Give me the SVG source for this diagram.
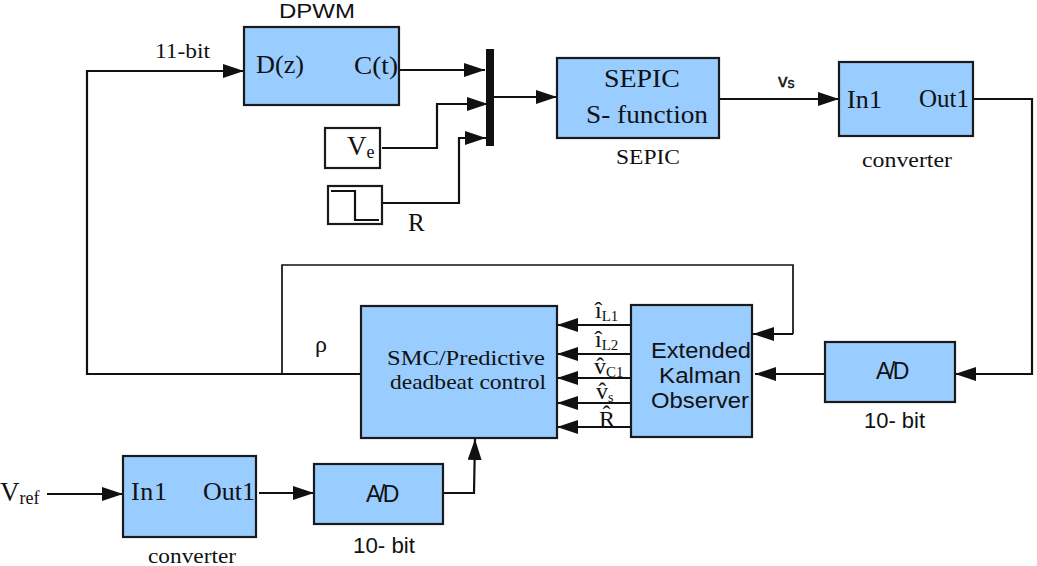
<svg xmlns="http://www.w3.org/2000/svg" width="1037" height="566" viewBox="0 0 1037 566">
<style>
.b{fill:#99ccff;stroke:#1a1a1a;stroke-width:2.2}
.w{fill:#fff;stroke:#1a1a1a;stroke-width:2.2}
.c{fill:none;stroke:#111;stroke-width:2.2}
.n{fill:none;stroke:#111;stroke-width:1.7}
.t{fill:#111;stroke:none}
text{fill:#111}
.s{font-family:"Liberation Serif",serif}
.a{font-family:"Liberation Sans",sans-serif}
</style>
<defs>
<marker id="ar" markerUnits="userSpaceOnUse" markerWidth="22" markerHeight="14" refX="21" refY="7" orient="auto"><path d="M0 0L21 7L0 14Z" fill="#111"/></marker>
</defs>
<rect width="1037" height="566" fill="#fff"/>
<g id="connectors">
<path class="c" marker-end="url(#ar)" d="M360 374H87V71H244"/>
<path class="n" d="M282 374V265H793V334"/>
<path class="c" marker-end="url(#ar)" d="M793 334H753"/>
<path class="c" marker-end="url(#ar)" d="M399 70H485"/>
<path class="c" marker-end="url(#ar)" d="M382 148H437V104H488"/>
<path class="c" marker-end="url(#ar)" d="M382 203H459V138H486"/>
<path class="c" marker-end="url(#ar)" d="M494 97H557"/>
<path class="c" marker-end="url(#ar)" d="M719 99H839"/>
<path class="c" marker-end="url(#ar)" d="M973 99H1032V374H955"/>
<path class="c" marker-end="url(#ar)" d="M825 374H755"/>
<path class="c" marker-end="url(#ar)" d="M631 325H557"/>
<path class="c" marker-end="url(#ar)" d="M631 354H557"/>
<path class="c" marker-end="url(#ar)" d="M631 378H557"/>
<path class="c" marker-end="url(#ar)" d="M631 403H557"/>
<path class="c" marker-end="url(#ar)" d="M631 427H557"/>
<path class="c" marker-end="url(#ar)" d="M47 494H123"/>
<path class="c" marker-end="url(#ar)" d="M259 493H314"/>
<path class="c" marker-end="url(#ar)" d="M443 493H474L475 439"/>
</g>
<g id="dpwm"><rect class="b" x="244" y="27" width="155" height="78"/>
<text class="a" x="279" y="18" font-size="21" textLength="76" lengthAdjust="spacingAndGlyphs">DPWM</text>
<text class="s" x="256" y="73" font-size="25" textLength="48" lengthAdjust="spacingAndGlyphs">D(z)</text><text class="s" x="354" y="74" font-size="26" textLength="44" lengthAdjust="spacingAndGlyphs">C(t)</text></g>
<g id="mux"><rect class="t" x="486" y="49" width="8" height="97"/></g>
<g id="ve"><rect class="w" x="325" y="128" width="55" height="40"/><text class="s" x="347" y="155" font-size="27">V<tspan font-size="18" dy="3">e</tspan></text></g>
<g id="step"><rect class="w" x="328" y="186" width="54" height="38"/><path class="c" d="M331 191H355V220H379"/><text class="s" x="408" y="231" font-size="25">R</text></g>
<g id="sepic"><rect class="b" x="557" y="58" width="162" height="80"/>
<text class="s" x="604" y="87" font-size="25" textLength="76" lengthAdjust="spacingAndGlyphs">SEPIC</text>
<text class="s" x="586" y="123" font-size="25" xml:space="preserve" textLength="122" lengthAdjust="spacingAndGlyphs">S- function</text>
<text class="s" x="616" y="164" font-size="21" textLength="64" lengthAdjust="spacingAndGlyphs">SEPIC</text></g>
<text class="a" x="778" y="87" font-size="19" stroke="#111" stroke-width="0.4">v<tspan font-size="14" dy="1">s</tspan></text>
<g id="conv1"><rect class="b" x="839" y="62" width="134" height="74"/>
<text class="s" x="847" y="108" font-size="26" textLength="35" lengthAdjust="spacing">In1</text><text class="s" x="919" y="107" font-size="26" textLength="50" lengthAdjust="spacingAndGlyphs">Out1</text>
<text class="s" x="862" y="167" font-size="21" textLength="90" lengthAdjust="spacingAndGlyphs">converter</text></g>
<text class="s" x="155" y="58" font-size="21" textLength="55" lengthAdjust="spacingAndGlyphs">11-bit</text>
<text class="s" x="315" y="352" font-size="24">ρ</text>
<g id="smc"><rect class="b" x="361" y="306" width="196" height="132"/>
<text class="s" x="387" y="365" font-size="22" textLength="158" lengthAdjust="spacingAndGlyphs">SMC/Predictive</text>
<text class="s" x="390" y="389" font-size="22" textLength="156" lengthAdjust="spacingAndGlyphs">deadbeat control</text></g>
<g id="ekf"><rect class="b" x="631" y="305" width="121" height="132"/>
<g class="a" font-size="22"><text x="651" y="358" textLength="100" lengthAdjust="spacingAndGlyphs">Extended</text><text x="659" y="383" textLength="82" lengthAdjust="spacingAndGlyphs">Kalman</text><text x="651" y="408" textLength="98" lengthAdjust="spacingAndGlyphs">Observer</text></g></g>
<g id="states" class="s" font-size="24">
<text x="595" y="318">î<tspan font-size="15" dy="3">L1</tspan></text>
<text x="595" y="347">î<tspan font-size="15" dy="3">L2</tspan></text>
<text x="594" y="374">v̂<tspan font-size="15" dy="3">C1</tspan></text>
<text x="596" y="399">v̂<tspan font-size="14" dy="3">s</tspan></text>
<text x="599" y="427">R̂</text></g>
<g id="ad1"><rect class="b" x="825" y="342" width="130" height="60"/><text class="a" x="876" y="379" font-size="23" letter-spacing="-2.5">A/D</text><text class="a" x="864" y="428" font-size="22" xml:space="preserve" textLength="61" lengthAdjust="spacingAndGlyphs">10- bit</text></g>
<g id="conv2"><rect class="b" x="123" y="456" width="133" height="81"/><text class="s" x="131" y="500" font-size="26" textLength="36" lengthAdjust="spacing">In1</text><text class="s" x="203" y="500" font-size="26" textLength="52" lengthAdjust="spacingAndGlyphs">Out1</text><text class="s" x="148" y="563" font-size="21" textLength="88" lengthAdjust="spacingAndGlyphs">converter</text></g>
<g id="ad2"><rect class="b" x="314" y="464" width="129" height="60"/><text class="a" x="366" y="502" font-size="23" letter-spacing="-2.5">A/D</text><text class="a" x="353" y="553" font-size="22" xml:space="preserve" textLength="62" lengthAdjust="spacingAndGlyphs">10- bit</text></g>
<text class="s" x="0" y="501" font-size="27">V<tspan font-size="18" dy="3">ref</tspan></text>
</svg>
